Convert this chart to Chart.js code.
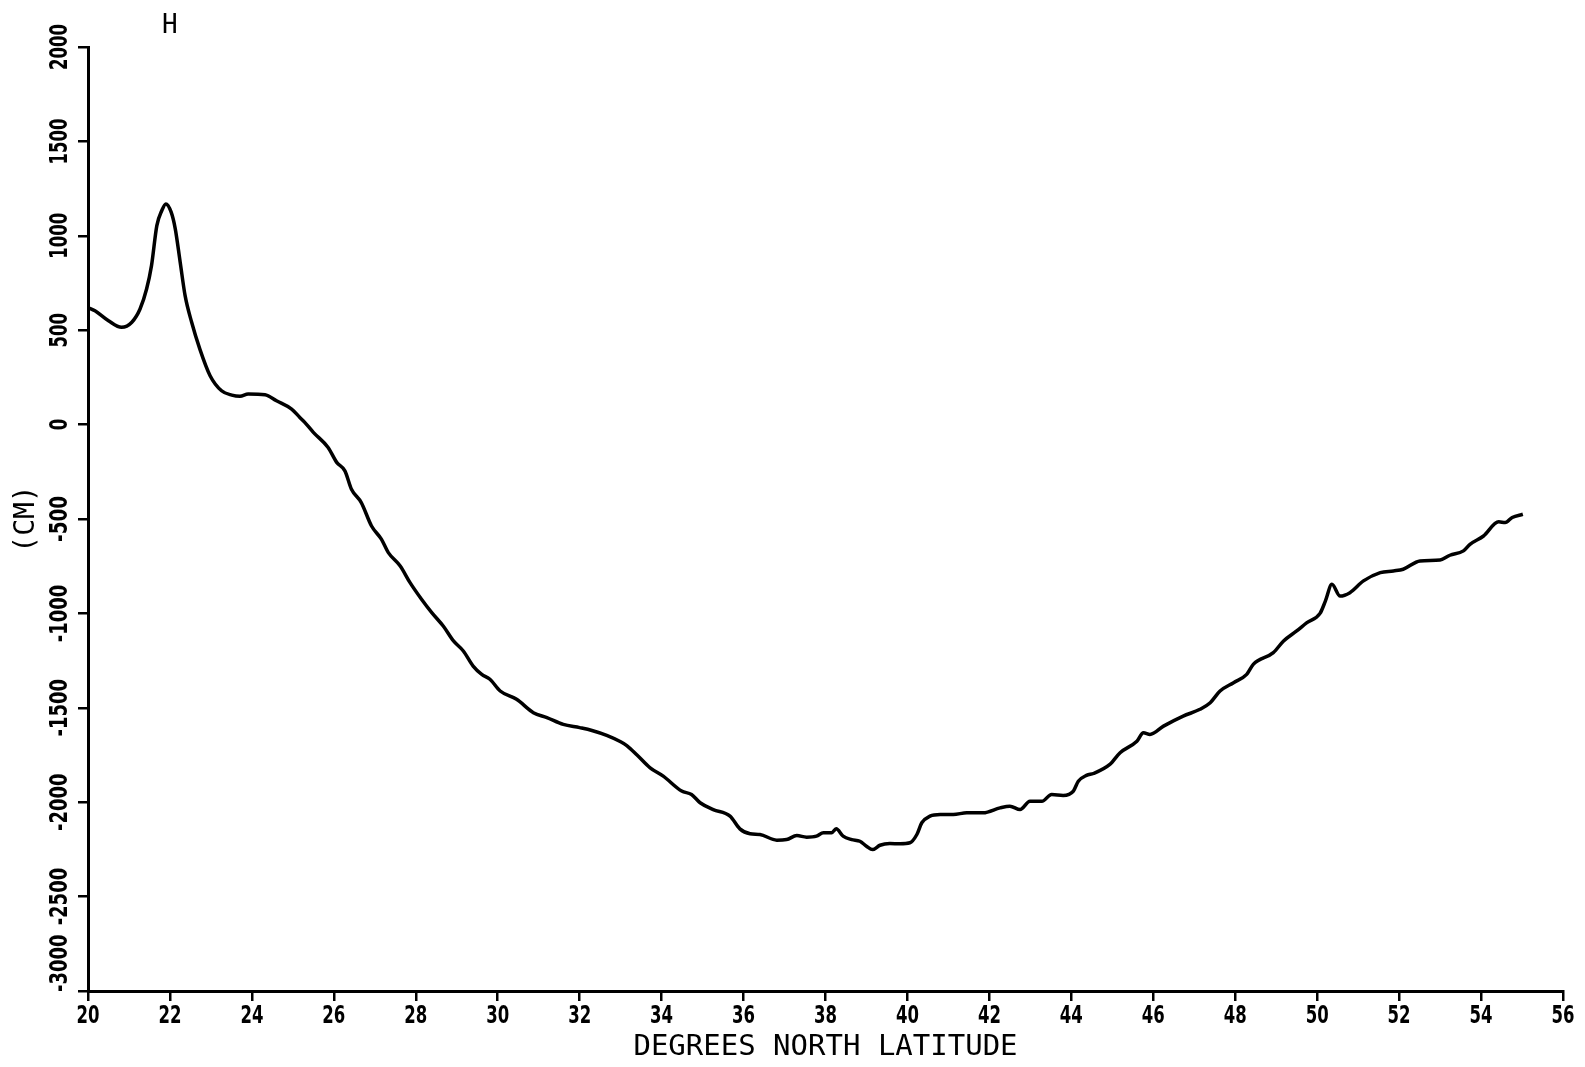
<!DOCTYPE html>
<html>
<head>
<meta charset="utf-8">
<title>H</title>
<script src="https://cdn.jsdelivr.net/npm/chart.js@4"></script>
<style>
  body { margin: 0; background: #fff; }
  canvas { display: block; }
</style>
</head>
<body>
<canvas id="chart__h" width="1585" height="1067"></canvas>
<script>
const latitude = [
    20.0, 20.17, 20.5, 20.82, 21.07, 21.27, 21.43, 21.55, 21.68, 21.8,
    21.9, 22.03, 22.13, 22.25, 22.37, 22.53, 22.73, 22.98, 23.26, 23.51,
    23.71, 23.91, 24.32, 24.6, 24.97, 25.17, 25.29, 25.5, 25.86, 26.07,
    26.27, 26.43, 26.67, 26.92, 27.16, 27.33, 27.62, 27.86, 28.14, 28.39,
    28.67, 28.92, 29.16, 29.4, 29.61, 29.81, 30.06, 30.46, 30.87, 31.2,
    31.6, 32.0, 32.3, 32.66, 33.0, 33.15, 33.4, 33.72, 34.04, 34.49,
    34.73, 34.94, 35.26, 35.67, 35.91, 36.16, 36.4, 36.81, 37.05, 37.3,
    37.54, 37.78, 37.95, 38.15, 38.26, 38.43, 38.64, 38.84, 39.0, 39.15,
    39.33, 39.57, 39.82, 40.06, 40.23, 40.35, 40.55, 40.8, 41.12, 41.45,
    41.85, 42.26, 42.5, 42.75, 42.99, 43.28, 43.52, 43.8, 44.05, 44.17,
    44.37, 44.54, 44.94, 45.19, 45.6, 45.76, 45.92, 46.25, 46.73, 47.14,
    47.39, 47.63, 47.96, 48.28, 48.44, 48.93, 49.18, 49.5, 49.75, 50.07,
    50.2, 50.36, 50.56, 50.8, 51.13, 51.54, 51.86, 52.1, 52.51, 53.0,
    53.24, 53.57, 53.73, 54.06, 54.43, 54.59, 54.76, 55.02
];
const heightCm = [
    620, 603, 550, 515, 542, 612, 718, 842, 1054, 1133,
    1169, 1125, 1037, 860, 683, 542, 400, 259, 179, 156,
    150, 162, 158, 126, 82, 38, 12, -41, -121, -200,
    -245, -342, -413, -537, -607, -678, -749, -837, -925, -996,
    -1067, -1146, -1199, -1279, -1323, -1349, -1411, -1455, -1526, -1552,
    -1588, -1605, -1620, -1646, -1680, -1700, -1750, -1818, -1862, -1941,
    -1959, -2003, -2039, -2074, -2141, -2167, -2171, -2201, -2198, -2177,
    -2185, -2180, -2162, -2162, -2141, -2180, -2198, -2207, -2233, -2251,
    -2228, -2219, -2220, -2215, -2171, -2109, -2074, -2065, -2065, -2056,
    -2056, -2030, -2021, -2039, -1995, -1995, -1959, -1964, -1941, -1889,
    -1858, -1848, -1800, -1738, -1677, -1632, -1641, -1597, -1544, -1508,
    -1473, -1411, -1367, -1323, -1270, -1208, -1146, -1093, -1049, -1000,
    -935, -846, -908, -890, -828, -784, -775, -766, -722, -717,
    -692, -669, -634, -590, -515, -519, -492, -475
];
const xTicks = [20, 56, 2];        // min, max, step
const yTicks = [-3000, 2000, 500];
const panelLabel = 'H';
const panelLabelAt = 22;

const tickFont = "bold 24px 'DejaVu Sans', sans-serif";
const textFont = "'DejaVu Sans Mono', monospace";
const digitWidth = 11.5;   // plotter digits are narrow, squeeze the glyphs to this

// draws a label squeezed along its reading direction
function narrowText(ctx, text, x, y, angle, align) {
    const w = ctx.measureText(text).width;
    const k = Math.min(1, digitWidth * text.length / w);
    ctx.save();
    ctx.translate(x, y);
    ctx.rotate(angle);
    ctx.scale(k, 1);
    ctx.textAlign = align;
    ctx.fillText(text, 0, 0);
    ctx.restore();
}

// tick labels for both axes; y labels run bottom-to-top
const plotterTickLabels = {
    id: 'plotterTickLabels',
    afterDraw(chart) {
        const ctx = chart.ctx;
        const {x, y} = chart.scales;
        ctx.save();
        ctx.fillStyle = '#000';
        ctx.font = tickFont;
        ctx.textBaseline = 'alphabetic';
        y.ticks.forEach((t, i) => {
            const py = y.getPixelForValue(t.value);
            if (i === 0) {
                narrowText(ctx, String(t.value), 67, py + 1, -Math.PI / 2, 'left');
            } else {
                narrowText(ctx, String(t.value), 67, py, -Math.PI / 2, 'center');
            }
        });
        x.ticks.forEach(t => {
            narrowText(ctx, String(t.value), x.getPixelForValue(t.value), 1023, 0, 'center');
        });
        ctx.restore();
    }
};

const panelTitle = {
    id: 'panelTitle',
    afterDraw(chart) {
        const ctx = chart.ctx;
        ctx.save();
        ctx.fillStyle = '#000';
        ctx.font = '26px ' + textFont;
        ctx.textAlign = 'center';
        ctx.textBaseline = 'alphabetic';
        ctx.fillText(panelLabel, chart.scales.x.getPixelForValue(panelLabelAt), 33);
        ctx.restore();
    }
};

const dataH = {
    datasets: [{
        label: panelLabel,
        data: latitude.map((lat, i) => ({ x: lat, y: heightCm[i] })),
        borderColor: '#000',
        borderWidth: 3.5,
        pointRadius: 0,
        cubicInterpolationMode: 'monotone',
        fill: false,
    }]
};

const configH = {
    type: 'line',
    data: dataH,
    plugins: [plotterTickLabels, panelTitle],
    options: {
        responsive: false,
        animation: false,
        layout: { padding: { top: 47, right: 22, left: 0, bottom: 0 } },
        plugins: {
            legend: { display: false },
            tooltip: { enabled: false },
        },
        scales: {
            x: {
                type: 'linear',
                min: xTicks[0],
                max: xTicks[1],
                afterFit(scale) {
                    scale.height = 76;
                    scale.paddingLeft = 0;
                    scale.paddingRight = 0;
                },
                ticks: { stepSize: xTicks[2], display: false },
                grid: { drawOnChartArea: false, tickLength: 10, color: '#000', lineWidth: 2.5 },
                border: { display: true, color: '#000', width: 3 },
                title: {
                    display: true,
                    text: 'DEGREES NORTH LATITUDE',
                    color: '#000',
                    padding: { top: 0, bottom: 2 },
                    font: { family: textFont, size: 29 },
                },
            },
            y: {
                type: 'linear',
                min: yTicks[0],
                max: yTicks[1],
                afterFit(scale) {
                    scale.width = 88;
                    scale.paddingTop = 0;
                    scale.paddingBottom = 0;
                },
                ticks: { stepSize: yTicks[2], display: false },
                grid: { drawOnChartArea: false, tickLength: 10, color: '#000', lineWidth: 2.5 },
                border: { display: true, color: '#000', width: 3 },
                title: {
                    display: true,
                    text: '(CM)',
                    color: '#000',
                    padding: { top: 10, bottom: 0 },
                    font: { family: textFont, size: 28 },
                },
            },
        },
    },
};
const canvasH = document.getElementById('chart__h');
const chartH = new Chart(canvasH, configH);
</script>
</body>
</html>
